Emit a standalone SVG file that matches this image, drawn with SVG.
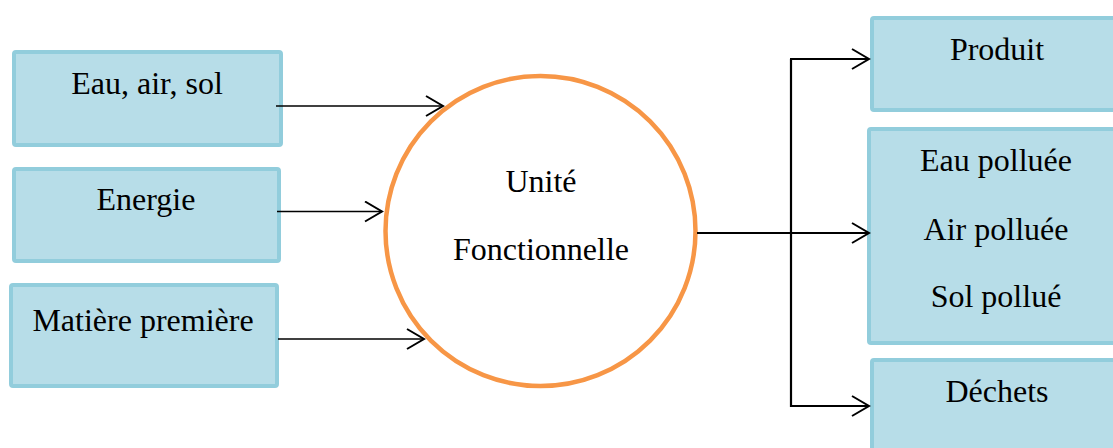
<svg xmlns="http://www.w3.org/2000/svg" width="1113" height="448" viewBox="0 0 1113 448">
<style>
.box{fill:#B7DDE8;stroke:#92CDDC;stroke-width:4}
.t{font-family:"Liberation Serif","Times New Roman",serif;font-size:32px;fill:#000;text-anchor:middle}
.c{fill:none;stroke:#000;stroke-width:1.7}
.c2{fill:none;stroke:#000;stroke-width:2.2}
</style>
<defs>
<marker id="ah" viewBox="-18 -11 20 22" markerWidth="20" markerHeight="22" refX="0" refY="0" orient="auto" markerUnits="userSpaceOnUse">
<path d="M-17,-10 L0,0 L-17,10" fill="none" stroke="#000" stroke-width="2"/>
</marker>
</defs>
<rect width="1113" height="448" fill="#fff"/>
<g id="n1"><rect class="box" x="14" y="52" width="267" height="93" rx="2"/><text class="t" x="147" y="94">Eau, air, sol</text></g>
<g id="n2"><rect class="box" x="14" y="169" width="265" height="92" rx="2"/><text class="t" x="146" y="210">Energie</text></g>
<g id="n3"><rect class="box" x="11" y="285" width="266" height="101" rx="2"/><text class="t" x="143" y="331">Matière première</text></g>
<g id="center"><circle cx="540.5" cy="231" r="155" fill="#fff" stroke="#F79646" stroke-width="4.5"/><text class="t" x="541" y="192">Unité</text><text class="t" x="541" y="260">Fonctionnelle</text></g>
<g id="o1"><rect class="box" x="872" y="18" width="260" height="92" rx="2"/><text class="t" x="997" y="60">Produit</text></g>
<g id="o2"><rect class="box" x="869" y="129" width="263" height="214" rx="2"/><text class="t" x="996" y="171">Eau polluée</text><text class="t" x="996" y="240">Air polluée</text><text class="t" x="996" y="307">Sol pollué</text></g>
<g id="o3"><rect class="box" x="872" y="360" width="260" height="100" rx="2"/><text class="t" x="997" y="402">Déchets</text></g>
<g id="connectors">
<path class="c" d="M276,106 H443" marker-end="url(#ah)"/>
<path class="c" d="M277,211.5 H382" marker-end="url(#ah)"/>
<path class="c" d="M278,339 H424" marker-end="url(#ah)"/>
<path class="c2" d="M697,233 H869" marker-end="url(#ah)"/>
<path class="c2" d="M791,59 V406 H869" marker-end="url(#ah)"/>
<path class="c2" d="M790,59 H869" marker-end="url(#ah)"/>
</g>
</svg>
